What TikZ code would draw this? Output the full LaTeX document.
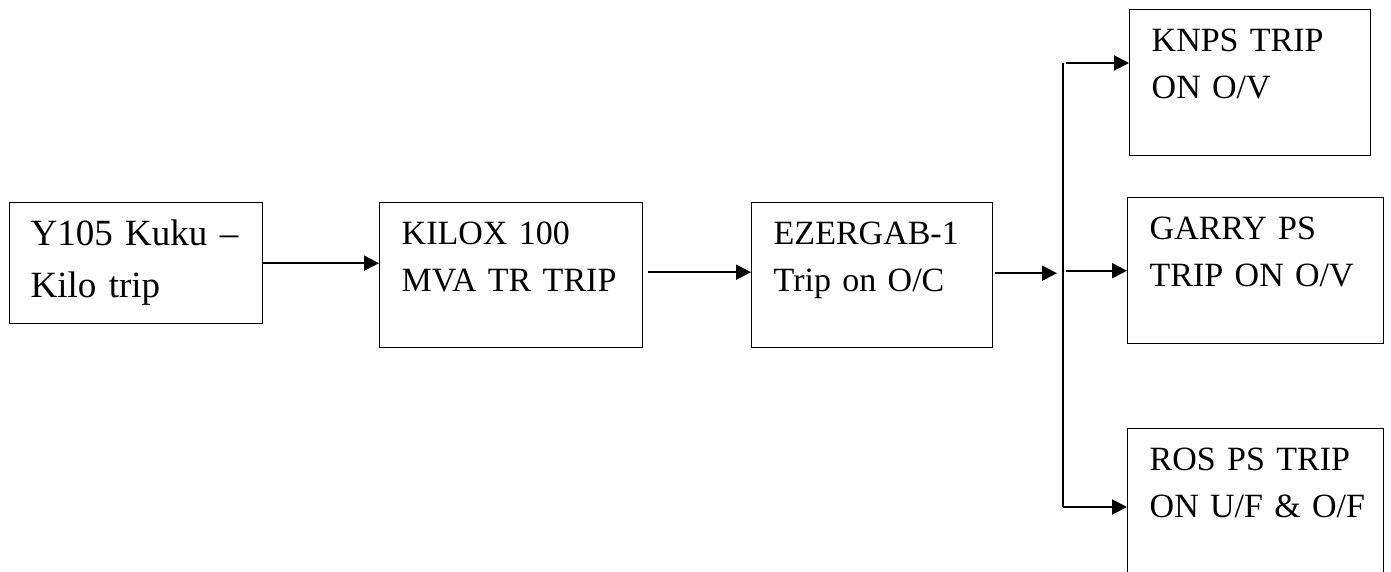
\documentclass[tikz,border=0pt]{standalone}
\usepackage{fontspec}
\setmainfont{Liberation Serif}
\usepackage{tikz}
\usetikzlibrary{arrows.meta,calc}
\usetikzlibrary{positioning,shapes}
\tikzstyle{line}=[-, line width=1.5pt]
\tikzstyle{arr}=[-{Triangle[length=15pt,width=15pt]}, line width=2pt]
\tikzstyle{tripbox}=[rectangle, draw, line width=1.4pt, anchor=north west,
		inner xsep=22pt, inner ysep=0pt, align=left, text height=42pt,
		font=\fontsize{34}{47}\selectfont]

\begin{document}
\begin{tikzpicture}[x=1pt,y=-1pt]
    \useasboundingbox (0,0) rectangle (1391,571);

    \node (Feeder) at (9,202) [tripbox, text width=211pt, text height=43pt,
            text depth=78pt, inner xsep=21pt,
            font=\fontsize{37}{52}\selectfont]{
      Y105 Kuku –\\
      Kilo trip};

    \node (Kilox) at (379,202) [tripbox, text width=219pt, text depth=103pt]{
      KILOX 100\\
      MVA TR TRIP};

    \node (Ezer) at (751,202) [tripbox, text width=197pt, text depth=103pt]{
      EZERGAB-1\\
      Trip on O/C};

    \node (Knps) at (1129,9) [tripbox, text width=197pt, text depth=104pt]{
      KNPS TRIP\\
      ON O/V};

    \node (Garry) at (1127,197) [tripbox, text width=212pt, text depth=104pt]{
      GARRY PS\\
      TRIP ON O/V};

    \node (Ros) at (1127,428) [tripbox, text width=212pt, text depth=104pt]{
      ROS PS TRIP\\
      \mbox{ON U/F \& O/F}};

%   the bus bar that splits the trip
    \coordinate (BusTop) at (1063,63);
    \coordinate (BusBot) at (1063,507);

    \draw [arr] (Feeder.east) -- (Feeder.east -| Kilox.west);
    \draw [arr] ([xshift=5pt,yshift=3pt]Kilox.east)
        -- ([yshift=3pt]Kilox.east -| Ezer.west);
    \draw [arr, shorten >=6pt] ([xshift=2pt,yshift=2pt]Ezer.east)
        -- ([yshift=2pt]Ezer.east -| BusTop);

    \draw [line] (BusTop) -- (BusBot);
    \draw [arr] ([xshift=3pt]BusTop) -- (BusTop -| Knps.west);
    \draw [arr] ([xshift=3pt]BusTop |- Garry.west) -- (Garry.west);
    \draw [arr] (BusBot) -- (BusBot -| Ros.west);

  \end{tikzpicture}
\end{document}
